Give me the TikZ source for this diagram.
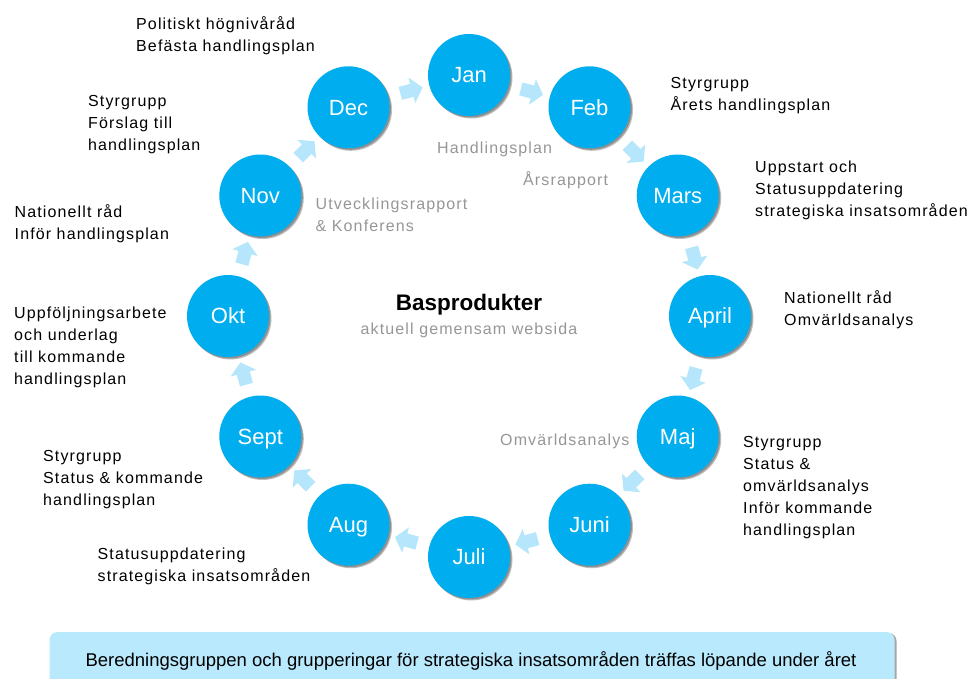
\documentclass[tikz,border=0pt]{standalone}
\usepackage{fontspec}
\setmainfont{Liberation Sans}
\newfontfamily\lsfont{Liberation Sans}[LetterSpace=7]
\usetikzlibrary{shapes.arrows,shadows,calc}
\definecolor{cblue}{RGB}{0,174,239}
\definecolor{ablue}{RGB}{182,230,251}
\definecolor{barblue}{RGB}{185,233,252}
\definecolor{tgray}{RGB}{150,150,150}
\tikzset{
  month/.style={circle, minimum size=82pt, inner sep=0pt, fill=cblue, text=white,
    font=\fontsize{22}{22}\selectfont, text height=15.8pt, text depth=0pt,
    drop shadow={shadow xshift=2.5pt, shadow yshift=-2.5pt, opacity=.25, fill=black},
    drop shadow={shadow xshift=1.5pt, shadow yshift=-1.5pt, opacity=.25, fill=black}},
  flow/.style={single arrow, fill=ablue, draw=none, inner xsep=0pt, inner ysep=6.5pt,
    minimum height=23pt, single arrow head extend=6.5pt, single arrow tip angle=100},
  lbl/.style={anchor=base west, align=left, inner sep=0pt,
    font=\lsfont\fontsize{16}{22}\selectfont},
  glbl/.style={lbl, text=tgray},
}
\begin{document}
\begin{tikzpicture}[x=1pt,y=-1pt]
\useasboundingbox (0,0) rectangle (974,679);
% bottom bar
\node[rounded corners=8pt, fill=barblue, minimum width=845pt, minimum height=56pt, inner sep=0pt,
  drop shadow={shadow xshift=2pt, shadow yshift=-1pt, opacity=.35, fill=black}]
  (bar) at (472,660) {};
\node[anchor=base, inner sep=0pt, font=\fontsize{18.5}{18.5}\selectfont] (bartext) at (471,666.5)
  {Beredningsgruppen och grupperingar för strategiska insatsområden träffas löpande under året};
% months
\node[month] (jan) at (469,75) {Jan};
\node[month] (feb) at (589.5,107.3) {Feb};
\node[month] (mar) at (677.7,195.5) {Mars};
\node[month] (apr) at (710,316) {April};
\node[month] (maj) at (677.7,436.5) {Maj};
\node[month] (jun) at (589.5,524.7) {Juni};
\node[month] (jul) at (469,557) {Juli};
\node[month] (aug) at (348.5,524.7) {Aug};
\node[month] (sep) at (260.3,436.5) {Sept};
\node[month] (okt) at (228,316) {Okt};
\node[month] (nov) at (260.3,195.5) {Nov};
\node[month] (dec) at (348.5,107.3) {Dec};
% flow arrows
\node[flow, rotate=-15]  (a1)  at ($(jan)!0.5!(feb)$) {};
\node[flow, rotate=-45]  (a2)  at ($(feb)!0.5!(mar)$) {};
\node[flow, rotate=-75]  (a3)  at ($(mar)!0.5!(apr)$) {};
\node[flow, rotate=-105] (a4)  at ($(apr)!0.5!(maj)$) {};
\node[flow, rotate=-135] (a5)  at ($(maj)!0.5!(jun)$) {};
\node[flow, rotate=-165] (a6)  at ($(jun)!0.5!(jul)$) {};
\node[flow, rotate=165]  (a7)  at ($(jul)!0.5!(aug)$) {};
\node[flow, rotate=135]  (a8)  at ($(aug)!0.5!(sep)$) {};
\node[flow, rotate=105]  (a9)  at ($(sep)!0.5!(okt)$) {};
\node[flow, rotate=75]   (a10) at ($(okt)!0.5!(nov)$) {};
\node[flow, rotate=45]   (a11) at ($(nov)!0.5!(dec)$) {};
\node[flow, rotate=15]   (a12) at ($(dec)!0.5!(jan)$) {};
% centre
\node[anchor=base, inner sep=0pt, font=\bfseries\fontsize{22.5}{22.5}\selectfont] (bas) at (469,310) {Basprodukter};
\node[anchor=base, inner sep=0pt, text=tgray, font=\lsfont\fontsize{16}{16}\selectfont] (web) at (469,334.3) {aktuell gemensam websida};
% gray labels (anchor = baseline of last line)
\node[glbl] (g1) at (437,154) {Handlingsplan};
\node[glbl] (g2) at (523,185.3) {Årsrapport};
\node[glbl] (g3) at (315.5,231) {Utvecklingsrapport\\\& Konferens};
\node[glbl] (g4) at (500,445.7) {Omvärldsanalys};
% black labels (anchor = baseline of last line)
\node[lbl] (t1) at (136,51.7) {Politiskt högnivåråd\\Befästa handlingsplan};
\node[lbl] (t2) at (88,150.7) {Styrgrupp\\Förslag till\\handlingsplan};
\node[lbl] (t3) at (14.5,239.3) {Nationellt råd\\Inför handlingsplan};
\node[lbl] (t4) at (14,384.3) {Uppföljningsarbete\\och underlag\\till kommande\\handlingsplan};
\node[lbl] (t5) at (43,505) {Styrgrupp\\Status \& kommande\\handlingsplan};
\node[lbl] (t6) at (97.5,581) {Statusuppdatering\\strategiska insatsområden};
\node[lbl] (t7) at (670.5,110.7) {Styrgrupp\\Årets handlingsplan};
\node[lbl] (t8) at (755,216.7) {Uppstart och\\Statusuppdatering\\strategiska insatsområden};
\node[lbl] (t9) at (784,325) {Nationellt råd\\Omvärldsanalys};
\node[lbl] (t10) at (743,535) {Styrgrupp\\Status \&\\omvärldsanalys\\Inför kommande\\handlingsplan};
\end{tikzpicture}
\end{document}
